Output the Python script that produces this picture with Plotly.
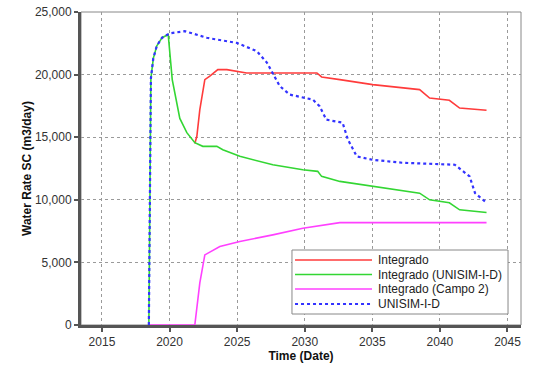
import plotly.graph_objects as go

# Data (decimal years, m3/day)
unisim_x = [2018.47, 2018.62, 2018.8, 2019.06, 2019.45, 2020.03, 2021.13, 2022.76, 2024.98, 2026.46, 2027.2,
            2028.16, 2028.9, 2030.6, 2031.1, 2031.6, 2032.8, 2033.2, 2033.85, 2035.0,
            2037.2, 2041.1, 2042.2, 2042.6, 2043.45]
unisim_y = [0, 19700, 21300, 22300, 22950, 23300, 23470, 22940, 22530, 21870, 20960,
            19070, 18400, 18000, 17470, 16400, 16160, 14800, 13470, 13200,
            12960, 12800, 11870, 10530, 9760]

integ_unisim_x = [2018.47, 2018.62, 2018.8, 2019.06, 2019.45, 2019.9, 2020.2, 2020.76, 2021.28, 2021.87, 2022.46,
                  2023.5, 2023.94, 2025.2, 2027.64, 2029.86, 2030.96, 2031.25, 2032.6,
                  2035.03, 2038.5, 2039.24, 2040.7, 2041.46, 2043.45]
integ_unisim_y = [0, 19700, 21300, 22300, 22950, 23200, 19600, 16500, 15360, 14560, 14270,
                  14270, 14000, 13470, 12800, 12400, 12270, 11870, 11470,
                  11070, 10530, 10000, 9760, 9200, 8990]

integ_x = [2021.87, 2022.02, 2022.24, 2022.61, 2022.98, 2023.57, 2024.24, 2025.7, 2030.9,
           2031.25, 2032.6, 2035.03, 2038.5, 2039.24, 2040.7, 2041.46, 2043.45]
integ_y = [14500, 15070, 17200, 19600, 19870, 20400, 20400, 20130, 20130,
           19810, 19600, 19200, 18800, 18130, 17950, 17330, 17150]

campo2_x = [2018.47, 2021.87, 2022.24, 2022.61, 2023.72, 2025.2, 2027.64, 2029.86, 2032.6, 2043.45]
campo2_y = [0, 0, 3360, 5600, 6270, 6670, 7200, 7730, 8180, 8180]

x_ticks = [2015, 2020, 2025, 2030, 2035, 2040, 2045]
y_ticks = [0, 5000, 10000, 15000, 20000, 25000]
y_tick_text = ["0", "5,000", "10,000", "15,000", "20,000", "25,000"]

series_names = ["Integrado", "Integrado (UNISIM-I-D)", "Integrado (Campo 2)", "UNISIM-I-D"]
series_colors = ["#FF3B3B", "#33D633", "#FF40FF", "#3333FF"]
series_dash = ["solid", "solid", "solid", "dot"]
series_width = [1.6, 1.6, 1.6, 2.2]
series_x = [integ_x, integ_unisim_x, campo2_x, unisim_x]
series_y = [integ_y, integ_unisim_y, campo2_y, unisim_y]

fig = go.Figure()
for name, xs, ys, c, d, w in zip(series_names, series_x, series_y, series_colors, series_dash, series_width):
    fig.add_trace(go.Scatter(x=xs, y=ys, mode="lines", name=name, showlegend=False,
                             line=dict(color=c, width=w, dash=d)))

font_family = "Liberation Sans, Arial, sans-serif"
fig.update_layout(
    width=533, height=365,
    margin=dict(l=81, r=12, t=12, b=40, autoexpand=False),
    paper_bgcolor="white", plot_bgcolor="white",
    font=dict(family=font_family, size=12, color="#333333"),
    showlegend=False,
    xaxis=dict(range=[2013.45, 2046.0], tickvals=x_ticks, ticktext=[str(v) for v in x_ticks],
               showgrid=True, gridcolor="#9a9a9a", griddash="dot", gridwidth=1.2,
               showline=True, linecolor="#555555", linewidth=3, mirror=False,
               ticks="outside", ticklen=4, tickcolor="#555555", tickwidth=2,
               zeroline=False, automargin=False,
               title=dict(text="<b>Time (Date)</b>", font=dict(size=12, color="#111111"), standoff=4)),
    yaxis=dict(range=[0, 25000], tickvals=y_ticks, ticktext=y_tick_text,
               showgrid=True, gridcolor="#9a9a9a", griddash="dot", gridwidth=1.2,
               showline=True, linecolor="#555555", linewidth=3, mirror=False,
               ticks="outside", ticklen=4, tickcolor="#555555", tickwidth=2,
               zeroline=False, automargin=False,
               title=dict(text="<b>Water Rate SC (m3/day)</b>", font=dict(size=12, color="#111111"), standoff=1)),
)
# thin top/right frame
fig.add_shape(type="rect", xref="paper", yref="paper", x0=0, y0=0, x1=1, y1=1,
              line=dict(color="#888888", width=1), layer="below")

# Legend box (drawn to match the compact reference legend)
fig.add_shape(type="rect", xref="paper", yref="paper", x0=0.4795, x1=0.9705, y0=0.0351, y1=0.2396,
              line=dict(color="#888888", width=1), fillcolor="white", layer="above")
row_y = [0.2077, 0.1613, 0.1150, 0.0671]
for name, c, d, w, ry in zip(series_names, series_colors, series_dash, series_width, row_y):
    fig.add_shape(type="line", xref="paper", yref="paper", x0=0.4864, x1=0.6614, y0=ry, y1=ry,
                  line=dict(color=c, width=w, dash=d), layer="above")
    fig.add_annotation(xref="paper", yref="paper", x=0.6705, y=ry, text=name, showarrow=False,
                       xanchor="left", yanchor="middle", font=dict(size=12, color="#222222"))

fig.write_html("out.html", config={"displayModeBar": False},
               post_script="document.body.style.margin='0';document.body.style.padding='0';")
